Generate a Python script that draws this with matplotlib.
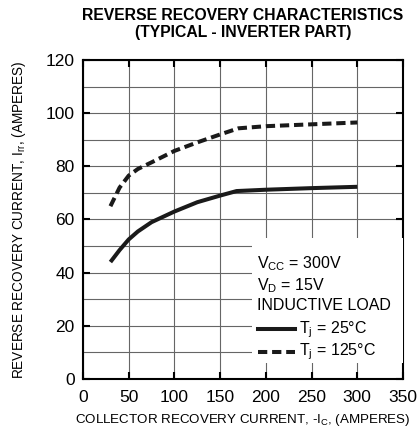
import matplotlib
matplotlib.use("Agg")
import matplotlib.pyplot as plt
from matplotlib.patches import Rectangle
from matplotlib.lines import Line2D

plt.rcParams['font.family'] = ['Liberation Sans', 'DejaVu Sans']

ic_25 = [30, 40, 50, 60, 75, 100, 125, 150, 168, 200, 250, 300]
irr_25 = [44, 48.5, 52.5, 55.5, 59, 63, 66.5, 69, 70.7, 71.2, 71.8, 72.3]
ic_125 = [30, 40, 50, 60, 75, 100, 125, 150, 170, 200, 250, 300]
irr_125 = [65, 72, 76.5, 79, 81.5, 85.8, 89, 92, 94.3, 95.1, 95.8, 96.5]

xticks = [0, 50, 100, 150, 200, 250, 300, 350]
yticks = [0, 20, 40, 60, 80, 100, 120]

fig = plt.figure(figsize=(4.17, 4.30), dpi=100)
ax = fig.add_axes([83/417, 1-379/430, 320/417, 319/430])
ax.set_xlim(0, 350)
ax.set_ylim(0, 120)
ax.set_xticks(xticks)
ax.set_yticks(yticks)
ax.set_yticks(range(10, 120, 20), minor=True)
ax.grid(True, which='both', color='#666666', linewidth=0.8)
ax.tick_params(which='major', direction='in', length=5, width=1.5, top=True, right=True, labelsize=12.5)
ax.tick_params(axis='x', pad=8)
ax.tick_params(axis='y', pad=6)
ax.tick_params(which='minor', length=0)
for s in ax.spines.values():
    s.set_linewidth(1.5)

DASH = (2.3, 1.2)
ax.plot(ic_25, irr_25, color='#1a1a1a', linewidth=2.9, solid_capstyle='butt', zorder=3)
ax.plot(ic_125, irr_125, color='#1a1a1a', linewidth=2.9, dashes=DASH, zorder=3)

# legend box
ax.add_patch(Rectangle((185, 6), 165, 47, facecolor='white', edgecolor='none', zorder=4))
fs = 11.5
ax.text(190, 43.5, r'V$_{\mathregular{CC}}$ = 300V', fontsize=fs, va='center', zorder=5)
ax.text(190, 35, r'V$_{\mathregular{D}}$ = 15V', fontsize=fs, va='center', zorder=5)
ax.text(190, 27.5, 'INDUCTIVE LOAD', fontsize=fs, va='center', zorder=5)
ax.add_line(Line2D([191, 232], [18.7, 18.7], color='#1a1a1a', linewidth=2.9, zorder=5))
ax.text(236, 18.7, r'T$_{\mathregular{j}}$ = 25°C', fontsize=fs, va='center', zorder=5)
ax.add_line(Line2D([191, 232], [10.2, 10.2], color='#1a1a1a', linewidth=2.9, dashes=DASH, zorder=5))
ax.text(236, 10.2, r'T$_{\mathregular{j}}$ = 125°C', fontsize=fs, va='center', zorder=5)

ax.set_xlabel(r'COLLECTOR RECOVERY CURRENT, -I$_{\mathregular{C}}$, (AMPERES)', fontsize=9.6, labelpad=5)
ax.set_ylabel(r'REVERSE RECOVERY CURRENT, I$_{\mathregular{rr}}$, (AMPERES)', fontsize=9.8, labelpad=13)
fig.text(243/417, 1-15/430, 'REVERSE RECOVERY CHARACTERISTICS', fontsize=11.3, fontweight='bold', ha='center', va='center')
fig.text(243/417, 1-33/430, '(TYPICAL - INVERTER PART)', fontsize=11.3, fontweight='bold', ha='center', va='center')

fig.savefig('out.png', dpi=100)
